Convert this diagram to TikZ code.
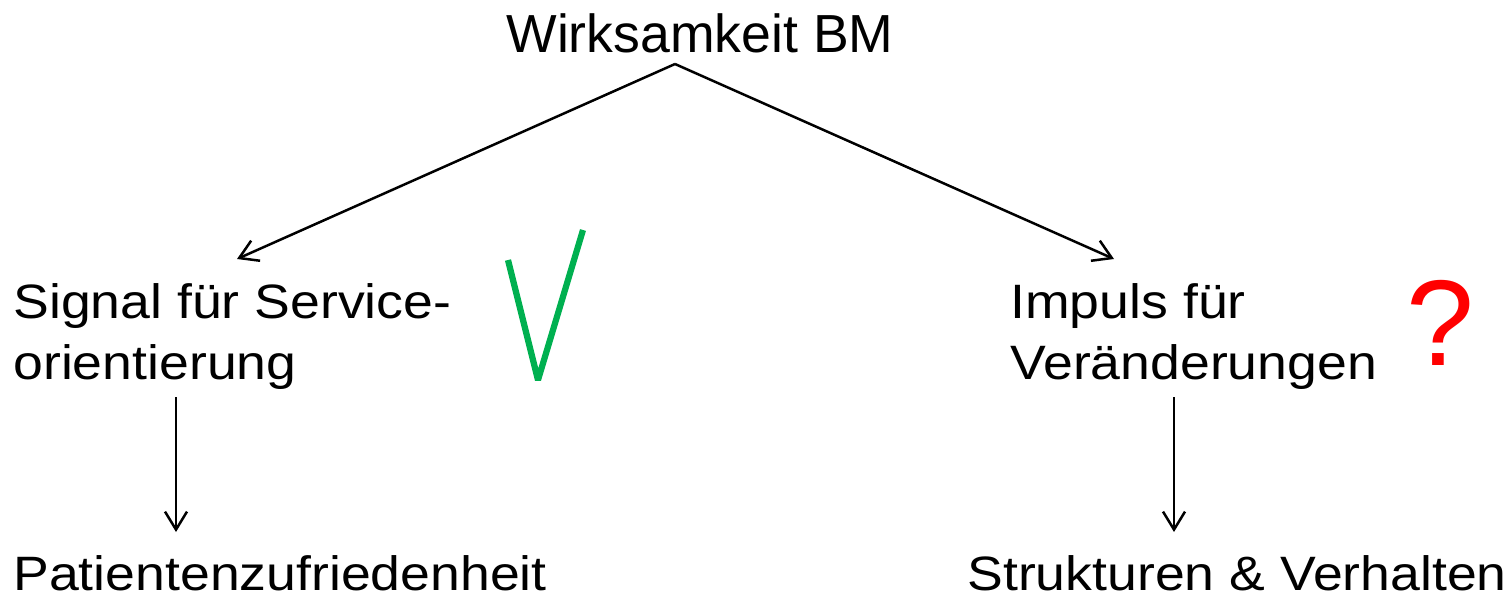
\documentclass[tikz,border=0pt]{standalone}
\usepackage{fontspec}
\setmainfont{Liberation Sans}
\usetikzlibrary{arrows.meta}
\definecolor{okgreen}{RGB}{0,176,80}
\definecolor{qred}{RGB}{255,0,0}
\newcommand\vsq[1]{\scalebox{1}[0.9]{#1}}
\begin{document}
\begin{tikzpicture}[x=0.5pt,y=-0.5pt,
  lbl/.style={anchor=base west, inner sep=0pt, font=\fontsize{26.8}{34.4}\selectfont},
  conn/.style={-{Straight Barb[length=9pt,width=11pt]}, line width=1.25pt}]
\useasboundingbox (0,0) rectangle (1509,600);
% texts
\node[lbl] (title) at (506,52) {Wirksamkeit BM};
\node[lbl] (sig) at (13,318) {\vsq{\begin{tabular}[t]{@{}l@{}}Signal für Service-\\orientierung\end{tabular}}};
\node[lbl] (imp) at (1010,318) {\vsq{\begin{tabular}[t]{@{}l@{}}Impuls für\\Veränderungen\end{tabular}}};
\node[lbl] (pat) at (13,590) {\vsq{Patientenzufriedenheit}};
\node[lbl] (str) at (967,590) {\vsq{Strukturen \& Verhalten}};
\node[anchor=base, inner sep=0pt, text=qred, font=\fontsize{61}{70}\selectfont] (q) at (1440,365) {?};
% connector endpoints
\coordinate (apex) at (675,64);
\coordinate (sigtop) at (237,259);
\coordinate (imptop) at (1114,259);
\coordinate (sigbot) at (176,397);
\coordinate (pattop) at (176,532);
\coordinate (impbot) at (1174,397);
\coordinate (strtop) at (1174,532);
\draw[conn] (apex) -- (sigtop);
\draw[conn] (apex) -- (imptop);
\draw[conn] (sigbot) -- (pattop);
\draw[conn] (impbot) -- (strtop);
% check mark
\draw[okgreen, line width=3.1pt, line join=bevel] (508,260) -- (538,380) -- (583,230);
\end{tikzpicture}
\end{document}
